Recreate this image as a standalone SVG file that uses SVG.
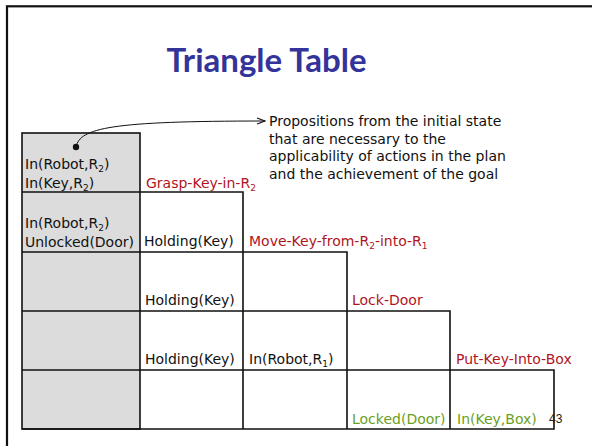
<svg xmlns="http://www.w3.org/2000/svg" width="592" height="446" viewBox="0 0 592 446">
<style>
.t{font-family:"DejaVu Sans","Liberation Sans",sans-serif;font-size:14px;fill:#111}
.r{fill:#b0141e}
.g{fill:#6a9f1e}
.ln{stroke:#111;stroke-width:1.6;fill:none}
.s{font-size:9px}
</style>
<defs>
<marker id="ah" markerWidth="10" markerHeight="8" refX="9" refY="4" orient="auto" markerUnits="userSpaceOnUse">
<path d="M1,1 L9,4 L1,7" fill="none" stroke="#111" stroke-width="1.2"/>
</marker>
</defs>
<rect width="592" height="446" fill="#fff"/>
<rect x="7" y="6.3" width="600" height="460" fill="none" stroke="#111" stroke-width="2.2"/>
<text x="266.5" y="72" text-anchor="middle" style="font-family:Lato,'DejaVu Sans',sans-serif;font-weight:bold;font-size:33px;fill:#333399">Triangle Table</text>

<g id="grid">
<rect x="22" y="133" width="118" height="296" style="fill:#dcdcdc;stroke:#111;stroke-width:1.6"/>
<path class="ln" d="M22,192H243V429M22,252H347V429M22,311H450V429M22,370H554V429H22"/>
</g>

<g id="col0">
<text class="t" x="25" y="169">In(Robot,R<tspan class="s" dy="3">2</tspan><tspan dy="-3">)</tspan></text>
<text class="t" x="25" y="188">In(Key,R<tspan class="s" dy="3">2</tspan><tspan dy="-3">)</tspan></text>
<text class="t" x="25" y="228">In(Robot,R<tspan class="s" dy="3">2</tspan><tspan dy="-3">)</tspan></text>
<text class="t" x="25" y="246.5">Unlocked(Door)</text>
</g>
<g id="col1">
<text class="t r" x="146" y="188">Grasp-Key-in-R<tspan class="s" dy="3">2</tspan></text>
<text class="t" x="144" y="246">Holding(Key)</text>
<text class="t" x="145" y="305">Holding(Key)</text>
<text class="t" x="145" y="364">Holding(Key)</text>
</g>
<g id="col2">
<text class="t r" x="249" y="246">Move-Key-from-R<tspan class="s" dy="3">2</tspan><tspan dy="-3">-into-R</tspan><tspan class="s" dy="3">1</tspan></text>
<text class="t" x="249" y="364">In(Robot,R<tspan class="s" dy="3">1</tspan><tspan dy="-3">)</tspan></text>
</g>
<g id="col3">
<text class="t r" x="352" y="305">Lock-Door</text>
<text class="t g" x="352" y="424">Locked(Door)</text>
</g>
<g id="col4">
<text class="t r" x="456" y="364">Put-Key-Into-Box</text>
<text class="t g" x="457" y="424">In(Key,Box)</text>
</g>
<g id="note">
<text class="t" x="269" y="126">Propositions from the initial state</text>
<text class="t" x="269" y="143.5">that are necessary to the</text>
<text class="t" x="269" y="161">applicability of actions in the plan</text>
<text class="t" x="269" y="178.5">and the achievement of the goal</text>
</g>
<g id="connectors">
<circle cx="76" cy="147" r="3.2" fill="#111"/>
<path d="M76,147 C80,128 110,121 265,121" fill="none" stroke="#111" stroke-width="1" marker-end="url(#ah)"/>
</g>
<text x="549" y="423" style="font-family:'Liberation Sans',Arial,sans-serif;font-size:12px;fill:#222">43</text>
</svg>
